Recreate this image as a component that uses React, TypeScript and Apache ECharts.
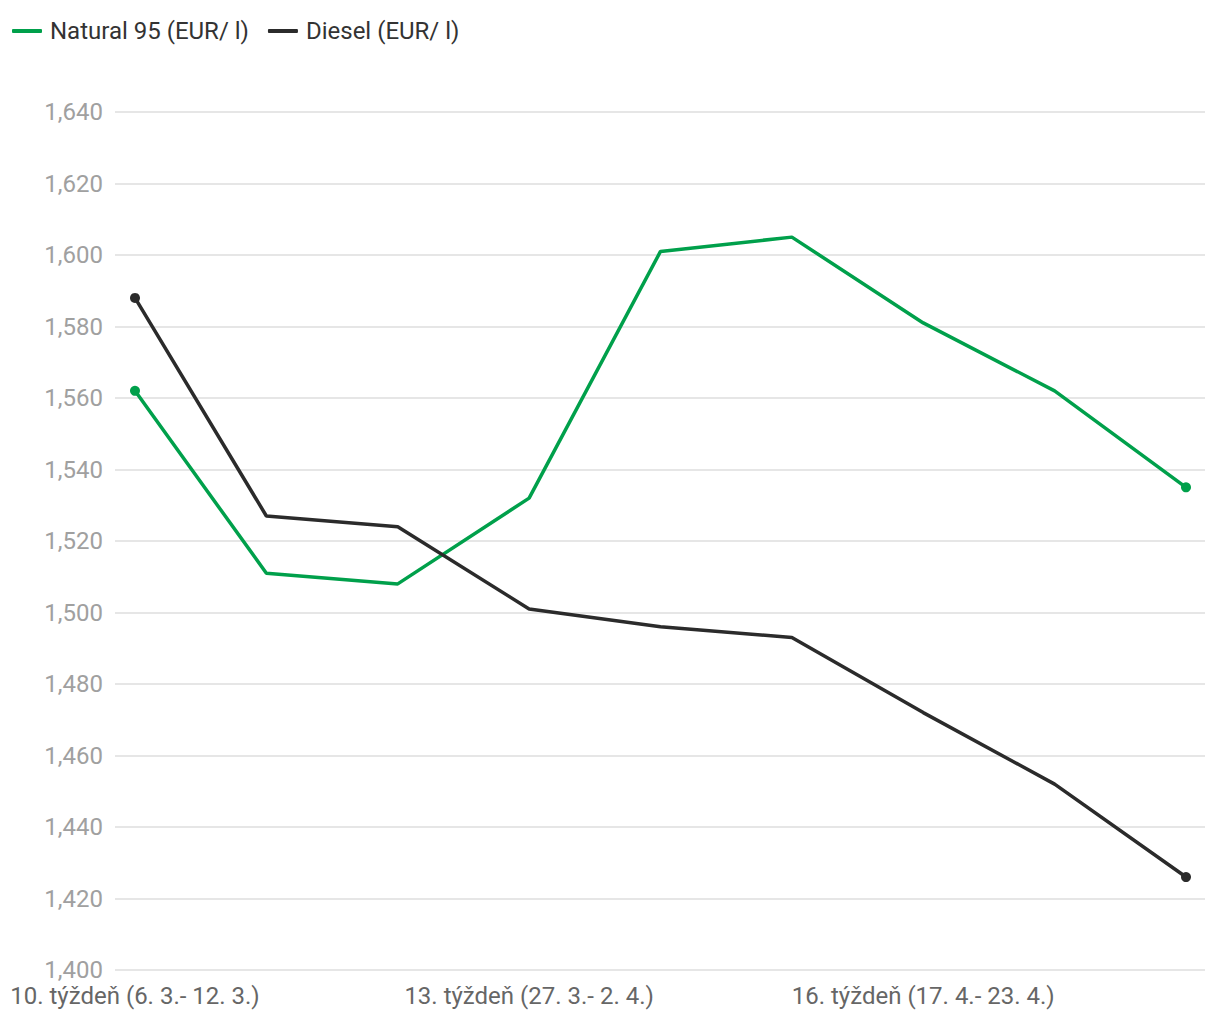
import React, { useEffect, useRef } from "react";
import * as echarts from "echarts";

const categories = [
  "10. týždeň (6. 3.- 12. 3.)",
  "11. týždeň (13. 3.- 19. 3.)",
  "12. týždeň (20. 3.- 26. 3.)",
  "13. týždeň (27. 3.- 2. 4.)",
  "14. týždeň (3. 4.- 9. 4.)",
  "15. týždeň (10. 4.- 16. 4.)",
  "16. týždeň (17. 4.- 23. 4.)",
  "17. týždeň (24. 4.- 30. 4.)",
  "18. týždeň (1. 5.- 7. 5.)",
];
const natural95 = [1.562, 1.511, 1.508, 1.532, 1.601, 1.605, 1.581, 1.562, 1.535];
const diesel = [1.588, 1.527, 1.524, 1.501, 1.496, 1.493, 1.472, 1.452, 1.426];
const labeledIndices = [0, 3, 6];
const seriesNames = ["Natural 95 (EUR/ l)", "Diesel (EUR/ l)"];

const GREEN = "#00a04b";
const DARK = "#2b2b2b";

export default function App() {
  const ref = useRef<HTMLDivElement>(null);
  useEffect(() => {
    document.body.style.margin = "0";
    const chart = echarts.init(ref.current!, null, { renderer: "svg" });
    const last = categories.length - 1;
    const sym = (_v: any, p: any) =>
      p.dataIndex === 0 || p.dataIndex === last ? "circle" : "none";
    const toPairs = (arr: number[]) => arr.map((v, i) => [i, v]);
    chart.setOption({
      animation: false,
      textStyle: { fontFamily: "Roboto" },
      legend: {
        left: 7,
        top: 14,
        itemWidth: 30,
        itemHeight: 4,
        itemGap: 19,
        icon: "roundRect",
        textStyle: { fontSize: 24, color: "#333", fontFamily: "Roboto", padding: [0, 0, 0, 3] },
        data: seriesNames,
      },
      grid: { left: 115, right: 15, top: 112, bottom: 50, containLabel: false },
      xAxis: {
        type: "value",
        min: -0.1522,
        max: 8.1447,
        axisLine: { show: false },
        axisTick: { show: false },
        splitLine: { show: false },
        axisLabel: {
          customValues: labeledIndices,
          formatter: (v: number) => categories[Math.round(v)] ?? "",
          fontSize: 24,
          color: "#666",
          margin: 14,
          fontFamily: "Roboto",
          hideOverlap: false,
          showMinLabel: true,
          showMaxLabel: true,
        },
      },
      yAxis: {
        type: "value",
        min: 1.4,
        max: 1.64,
        interval: 0.02,
        axisLine: { show: false },
        axisTick: { show: false },
        splitLine: { lineStyle: { color: "#e6e6e6", width: 2 } },
        axisLabel: {
          formatter: (v: number) => v.toFixed(3).replace(".", ","),
          fontSize: 24,
          color: "#a0a0a0",
          margin: 12,
          fontFamily: "Roboto",
        },
      },
      series: [
        {
          name: seriesNames[0],
          type: "line",
          data: toPairs(natural95),
          symbol: sym,
          symbolSize: 10,
          showSymbol: true,
          lineStyle: { color: GREEN, width: 3.5 },
          itemStyle: { color: GREEN },
        },
        {
          name: seriesNames[1],
          type: "line",
          data: toPairs(diesel),
          symbol: sym,
          symbolSize: 10,
          showSymbol: true,
          lineStyle: { color: DARK, width: 3.5 },
          itemStyle: { color: DARK },
        },
      ],
    });
    return () => chart.dispose();
  }, []);
  return <div ref={ref} style={{ width: 1220, height: 1020 }} />;
}
